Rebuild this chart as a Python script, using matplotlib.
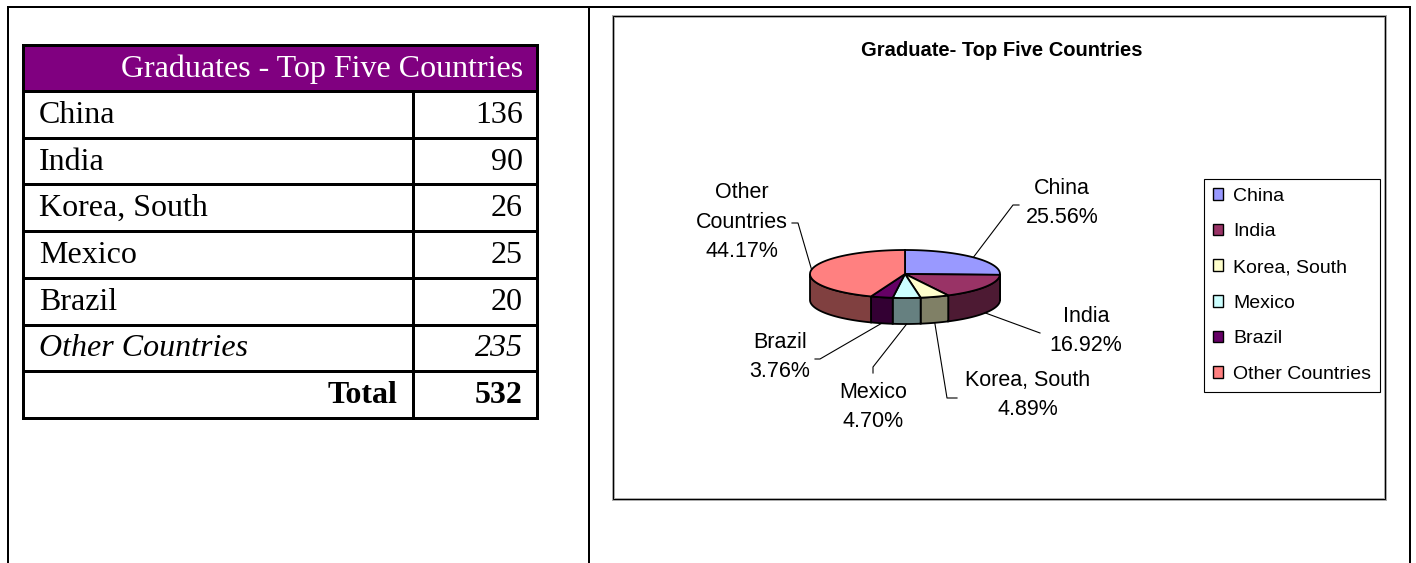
import numpy as np
import matplotlib
matplotlib.use("Agg")
import matplotlib.pyplot as plt
from matplotlib.patches import Polygon, Rectangle, Patch

# data
countries = ["China", "India", "Korea, South", "Mexico", "Brazil", "Other Countries"]
pie_labels = ["China", "India", "Korea, South", "Mexico", "Brazil", "Other\nCountries"]
graduates = [136, 90, 26, 25, 20, 235]
table_title = "Graduates - Top Five Countries"
chart_title = "Graduate- Top Five Countries"
top_colors = ["#9999FF", "#993366", "#FFFFCC", "#CCFFFF", "#660066", "#FF8080"]

plt.rcParams["font.family"] = ["Liberation Sans", "DejaVu Sans"]

W, H = 1416, 563
fig = plt.figure(figsize=(W / 100, H / 100), dpi=100)
ax = fig.add_axes([0, 0, 1, 1])
ax.set_xlim(0, W)
ax.set_ylim(H, 0)
ax.axis("off")

px = 0.72  # one pixel in points

# page frame
ax.plot([8, 1410], [7, 7], color="black", lw=2 * px)
for x in (8, 589, 1410):
    ax.plot([x, x], [7, H], color="black", lw=2 * px)

# ---- table ----
serif = ["Liberation Serif", "DejaVu Serif"]
fs_t = 23
t_left, t_mid, t_right = 23, 413, 537
t_top, head_h, row_h = 45, 46, 46.7
n_rows = len(countries) + 1
t_bottom = t_top + head_h + n_rows * row_h

ax.add_patch(Rectangle((t_left, t_top), t_right - t_left, head_h, facecolor="#800080",
                       edgecolor="none", zorder=1))
ax.text(t_right - 14, t_top + head_h / 2 + 1, table_title, ha="right", va="center",
        color="white", fontsize=fs_t, family=serif)

total = sum(graduates)
for i, (name, val) in enumerate(zip(countries, graduates)):
    yc = t_top + head_h + (i + 0.5) * row_h
    style = "italic" if name == "Other Countries" else "normal"
    ax.text(t_left + 16, yc + 1, name, ha="left", va="center", fontsize=fs_t,
            family=serif, style=style)
    ax.text(t_right - 14, yc + 1, str(val), ha="right", va="center", fontsize=fs_t,
            family=serif, style=style)
yc = t_top + head_h + (n_rows - 0.5) * row_h
ax.text(t_mid - 16, yc + 1, "Total", ha="right", va="center", fontsize=fs_t,
        family=serif, weight="bold")
ax.text(t_right - 14, yc + 1, str(total), ha="right", va="center", fontsize=fs_t,
        family=serif, weight="bold")

lw_t = 3 * px
ax.add_patch(Rectangle((t_left, t_top), t_right - t_left, t_bottom - t_top,
                       fill=False, edgecolor="black", lw=lw_t, zorder=3))
for i in range(n_rows):
    y = t_top + head_h + i * row_h
    ax.plot([t_left, t_right], [y, y], color="black", lw=lw_t, zorder=3)
ax.plot([t_mid, t_mid], [t_top + head_h, t_bottom], color="black", lw=lw_t, zorder=3)

# ---- chart ----
ax.add_patch(Rectangle((613, 16), 1385 - 613, 499 - 16, fill=False,
                       edgecolor="#aaaaaa", lw=3 * px))
ax.add_patch(Rectangle((613, 16), 1385 - 613, 499 - 16, fill=False,
                       edgecolor="black", lw=1 * px))
ax.text(1002, 50, chart_title, ha="center", va="center", fontsize=14.5, weight="bold")

cx, cy, rx, ry, depth = 905, 274, 95, 24, 26
fracs = np.array(graduates) / total
bounds = 90 - 360 * np.concatenate([[0], np.cumsum(fracs)])


def rim(deg, dy=0):
    t = np.radians(deg)
    return cx + rx * np.cos(t), cy - ry * np.sin(t) + dy


for i, c in enumerate(top_colors):
    a0, a1 = bounds[i], bounds[i + 1]
    hi, lo = min(a0, 0), max(a1, -180)
    if hi > lo:
        ang = np.linspace(hi, lo, 80)
        xs, ys = rim(ang)
        pts = list(zip(xs, ys)) + list(zip(xs[::-1], ys[::-1] + depth))
        side = tuple(0.5 * np.array(matplotlib.colors.to_rgb(c)))
        ax.add_patch(Polygon(pts, closed=True, facecolor=side, edgecolor="black",
                             lw=1.3, zorder=2))
for i, c in enumerate(top_colors):
    ang = np.linspace(bounds[i], bounds[i + 1], 120)
    xs, ys = rim(ang)
    pts = [(cx, cy)] + list(zip(xs, ys))
    ax.add_patch(Polygon(pts, closed=True, facecolor=c, edgecolor="black",
                         lw=1.3, zorder=3))

# data labels with leader lines
label_pos = [(1062, 203), (1086, 331), (1028, 395), (873, 407), (780, 357), (742, 222)]
leader_end = [[(1013, 205), (1019, 205)], [(1040, 333)], [(947, 398), (957, 398)],
              [(873, 367), (873, 373)], [(820, 359), (815, 359)],
              [(798, 223), (792, 223)]]
for i, (lab, f) in enumerate(zip(pie_labels, fracs)):
    mid = (bounds[i] + bounds[i + 1]) / 2
    front = np.sin(np.radians(mid)) < -0.3
    sx, sy = rim(mid, depth if front else 0)
    path = [(sx, sy)] + leader_end[i]
    ax.plot([p[0] for p in path], [p[1] for p in path], color="black", lw=0.8, zorder=4)
    x, y = label_pos[i]
    ax.text(x, y, f"{lab}\n{f * 100:.2f}%", ha="center", va="center",
            fontsize=15.5, linespacing=1.55, zorder=5)

handles = [Patch(facecolor=c, edgecolor="black", linewidth=1) for c in top_colors]
leg = ax.legend(handles, countries, loc="upper left", bbox_to_anchor=(1204, 179),
                bbox_transform=ax.transData, frameon=True, fancybox=False,
                edgecolor="black", framealpha=1, fontsize=14, handlelength=0.55,
                handleheight=0.55, handletextpad=0.5, labelspacing=0.96,
                borderpad=0.45, borderaxespad=0)
leg.get_frame().set_linewidth(0.8)

fig.savefig("out.png", dpi=100)
